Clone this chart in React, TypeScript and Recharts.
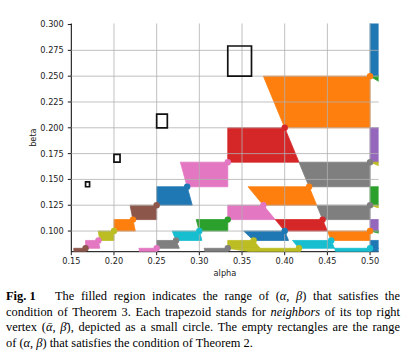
import React from 'react';
import { ScatterChart, Scatter, XAxis, YAxis, ReferenceLine, ReferenceArea } from 'recharts';

// Axis ticks
const xTicks = [0.15, 0.2, 0.25, 0.3, 0.35, 0.4, 0.45, 0.5];
const yTicks = [0.1, 0.125, 0.15, 0.175, 0.2, 0.225, 0.25, 0.275, 0.3];

// Trapezoids (alpha, beta) vertices: top-left, top-right (= the circle), bottom-right, bottom-left
type Pt = [number, number];
const polygons: Pt[][] = [
  // beta in [1/4, 1/3]
  [[0.5, 0.3333], [0.6667, 0.3333], [0.75, 0.25], [0.5, 0.25]],
  // beta in [1/5, 1/4]
  [[0.375, 0.25], [0.5, 0.25], [0.5, 0.2], [0.4, 0.2]],
  [[0.5, 0.25], [0.75, 0.25], [0.8, 0.2], [0.6, 0.2]],
  // beta in [1/6, 1/5]
  [[0.3333, 0.2], [0.4, 0.2], [0.4167, 0.1667], [0.3333, 0.1667]],
  [[0.5, 0.2], [0.6, 0.2], [0.6333, 0.1667], [0.5, 0.1667]],
  // beta in [1/7, 1/6]
  [[0.2778, 0.1667], [0.3333, 0.1667], [0.3333, 0.1429], [0.2857, 0.1429]],
  [[0.4167, 0.1667], [0.5, 0.1667], [0.5, 0.1429], [0.4286, 0.1429]],
  [[0.5, 0.1667], [0.6667, 0.1667], [0.7, 0.1429], [0.5714, 0.1429]],
  // beta in [1/8, 1/7]
  [[0.25, 0.1429], [0.2857, 0.1429], [0.2917, 0.125], [0.25, 0.125]],
  [[0.3571, 0.1429], [0.4286, 0.1429], [0.4375, 0.125], [0.375, 0.125]],
  [[0.5, 0.1429], [0.5714, 0.1429], [0.58, 0.125], [0.5, 0.125]],
  // beta in [1/9, 1/8]
  [[0.2188, 0.125], [0.25, 0.125], [0.25, 0.1111], [0.2222, 0.1111]],
  [[0.3333, 0.125], [0.375, 0.125], [0.3889, 0.1111], [0.3333, 0.1111]],
  [[0.4375, 0.125], [0.5, 0.125], [0.5, 0.1111], [0.4444, 0.1111]],
  [[0.5, 0.125], [0.625, 0.125], [0.65, 0.1111], [0.5556, 0.1111]],
  // beta in [1/10, 1/9]
  [[0.2, 0.1111], [0.2222, 0.1111], [0.225, 0.1], [0.2, 0.1]],
  [[0.2963, 0.1111], [0.3333, 0.1111], [0.3333, 0.1], [0.3, 0.1]],
  [[0.3889, 0.1111], [0.4444, 0.1111], [0.45, 0.1], [0.4, 0.1]],
  [[0.5, 0.1111], [0.5556, 0.1111], [0.56, 0.1], [0.5, 0.1]],
  // beta in [1/11, 1/10]
  [[0.1815, 0.1], [0.2, 0.1], [0.2, 0.0909], [0.1835, 0.0909]],
  [[0.2682, 0.1], [0.3, 0.1], [0.303, 0.0909], [0.2727, 0.0909]],
  [[0.352, 0.1], [0.4, 0.1], [0.4045, 0.0909], [0.3636, 0.0909]],
  [[0.45, 0.1], [0.5, 0.1], [0.5, 0.0909], [0.4545, 0.0909]],
  [[0.5, 0.1], [0.6, 0.1], [0.6364, 0.0909], [0.5455, 0.0909]],
  // beta in [1/12, 1/11]
  [[0.1667, 0.0909], [0.1818, 0.0909], [0.1833, 0.0833], [0.1667, 0.0833]],
  [[0.25, 0.0909], [0.2727, 0.0909], [0.2765, 0.0833], [0.25, 0.0833]],
  [[0.3333, 0.0909], [0.3636, 0.0909], [0.3712, 0.0833], [0.3333, 0.0833]],
  [[0.4091, 0.0909], [0.4545, 0.0909], [0.4583, 0.0833], [0.4167, 0.0833]],
  [[0.5, 0.0909], [0.5455, 0.0909], [0.55, 0.0833], [0.5, 0.0833]],
  // beta in [1/13, 1/12]
  [[0.1528, 0.0833], [0.1667, 0.0833], [0.1667, 0.0769], [0.1538, 0.0769]],
  [[0.2292, 0.0833], [0.25, 0.0833], [0.25, 0.0769], [0.2308, 0.0769]],
  [[0.3056, 0.0833], [0.3333, 0.0833], [0.3333, 0.0769], [0.3077, 0.0769]],
  [[0.3333, 0.0833], [0.4167, 0.0833], [0.42, 0.0769], [0.3846, 0.0769]],
  [[0.4583, 0.0833], [0.5, 0.0833], [0.5, 0.0769], [0.4615, 0.0769]],
  [[0.5, 0.0833], [0.5833, 0.0833], [0.59, 0.0769], [0.5, 0.0769]],
];

const polygonColors: string[] = [
  'blue',
  'orange', 'green',
  'red', 'purple',
  'pink', 'gray', 'olive',
  'blue', 'orange', 'green',
  'brown', 'pink', 'gray', 'olive',
  'orange', 'green', 'red', 'purple',
  'olive', 'cyan', 'blue', 'orange', 'green',
  'pink', 'gray', 'olive', 'cyan', 'blue',
  'brown', 'pink', 'gray', 'olive', 'cyan', 'blue',
];

const palette: Record<string, string> = {
  blue: '#1f77b4', orange: '#ff7f0e', green: '#2ca02c', red: '#d62728', purple: '#9467bd',
  brown: '#8c564b', pink: '#e377c2', gray: '#7f7f7f', olive: '#bcbd22', cyan: '#17becf',
};

// Empty rectangles (Theorem 2)
const rectAlpha: [number, number][] = [[0.3333, 0.3611], [0.25, 0.2625], [0.2, 0.2071], [0.1667, 0.1714]];
const rectBeta: [number, number][] = [[0.25, 0.2792], [0.2, 0.2133], [0.1667, 0.1743], [0.1429, 0.1476]];

const circleData = polygons.map((p, i) => ({ a: p[1][0], b: p[1][1], c: palette[polygonColors[i]] }));

const polyLine = (color: string) => (props: any) => {
  const pts = (props && props.points) || [];
  if (!pts.length) return <g />;
  const d = pts.map((p: any, i: number) => `${i ? 'L' : 'M'}${p.x},${p.y}`).join(' ') + ' Z';
  return <path d={d} fill={color} stroke={color} strokeWidth={0.8} />;
};

const tickStyle = { fontSize: 8.2, fill: '#222', fontFamily: 'DejaVu Sans' };
const gridColor = '#b0b0b0';

export default function App() {
  return (
    <div style={{ position: 'absolute', left: 0, top: 0, width: 409, height: 355, background: '#fff' }}>
      <ScatterChart width={409} height={290} margin={{ top: 23.5, right: 30.4, bottom: 8.3, left: 21.3 }}>
        <XAxis
          dataKey="a"
          type="number"
          domain={[0.15, 0.51]}
          ticks={xTicks}
          interval={0}
          allowDataOverflow
          height={30}
          tickSize={3.5}
          tickMargin={3}
          tick={tickStyle}
          tickFormatter={(v: number) => v.toFixed(2)}
          axisLine={{ stroke: '#000', strokeWidth: 1 }}
          tickLine={{ stroke: '#000', strokeWidth: 0.9 }}
          label={{ value: 'alpha', position: 'insideBottom', offset: 6.2, fontSize: 8.2, fill: '#222', fontFamily: 'DejaVu Sans' }}
        />
        <XAxis xAxisId="top" orientation="top" type="number" domain={[0.15, 0.51]} height={0} tick={false} tickLine={false} axisLine={{ stroke: '#000', strokeWidth: 1 }} />
        <YAxis
          dataKey="b"
          type="number"
          domain={[0.08, 0.301]}
          ticks={yTicks}
          interval={0}
          allowDataOverflow
          width={50}
          tickSize={3.5}
          tickMargin={4}
          tick={tickStyle}
          tickFormatter={(v: number) => v.toFixed(3)}
          axisLine={{ stroke: '#000', strokeWidth: 1 }}
          tickLine={{ stroke: '#000', strokeWidth: 0.9 }}
          label={{ value: 'beta', angle: -90, position: 'insideLeft', offset: 12, fontSize: 8.2, fill: '#222', fontFamily: 'DejaVu Sans', style: { textAnchor: 'middle' } }}
        />
        <YAxis yAxisId="right" orientation="right" type="number" domain={[0.08, 0.301]} width={0} tick={false} tickLine={false} axisLine={{ stroke: '#000', strokeWidth: 1 }} />
        {polygons.map((poly, i) => (
          <Scatter
            key={'p' + i}
            data={poly.map(([a, b]) => ({ a, b }))}
            fill={palette[polygonColors[i]]}
            line={polyLine(palette[polygonColors[i]])}
            lineType="joint"
            shape={() => <g />}
            isAnimationActive={false}
            legendType="none"
          />
        ))}
        {xTicks.slice(1).map((t) => (
          <ReferenceLine key={'gx' + t} x={t} stroke={gridColor} strokeWidth={0.8} zIndex={700} />
        ))}
        {yTicks.slice(0, -1).map((t) => (
          <ReferenceLine key={'gy' + t} y={t} stroke={gridColor} strokeWidth={0.8} zIndex={700} />
        ))}
        {rectAlpha.map((ra, i) => (
          <ReferenceArea
            key={'r' + i}
            x1={ra[0]}
            x2={ra[1]}
            y1={rectBeta[i][0]}
            y2={rectBeta[i][1]}
            fill="none"
            fillOpacity={0}
            stroke="#111"
            strokeWidth={1.7}
            strokeOpacity={1}
            zIndex={800}
          />
        ))}
        <Scatter
          data={circleData}
          isAnimationActive={false}
          legendType="none"
          zIndex={900}
          shape={(p: any) => <circle cx={p.cx} cy={p.cy} r={3.2} fill={p.payload ? p.payload.c : '#000'} />}
        />
      </ScatterChart>
      <div style={{ position: 'absolute', left: 6, top: 289, width: 394, fontFamily: '"Liberation Serif", serif', fontSize: 12.4, lineHeight: '15.5px', color: '#000' }}>
        <div style={{ display: 'flex', whiteSpace: 'nowrap' }}>
          <span style={{ fontWeight: 'bold', width: 49, flex: 'none' }}>Fig. 1</span>
          <span style={{ flex: 1, textAlign: 'justify', textAlignLast: 'justify' as any, whiteSpace: 'normal' }}>
            The filled region indicates the range of (<i>α</i>, <i>β</i>) that satisfies the
          </span>
        </div>
        <div style={{ textAlign: 'justify', textAlignLast: 'justify' as any }}>
          condition of Theorem 3. Each trapezoid stands for <i>neighbors</i> of its top right
        </div>
        <div style={{ textAlign: 'justify', textAlignLast: 'justify' as any }}>
          vertex (<i>ᾱ</i>, <i>β̄</i>), depicted as a small circle. The empty rectangles are the range
        </div>
        <div>
          of (<i>α</i>, <i>β</i>) that satisfies the condition of Theorem 2.
        </div>
      </div>
    </div>
  );
}
